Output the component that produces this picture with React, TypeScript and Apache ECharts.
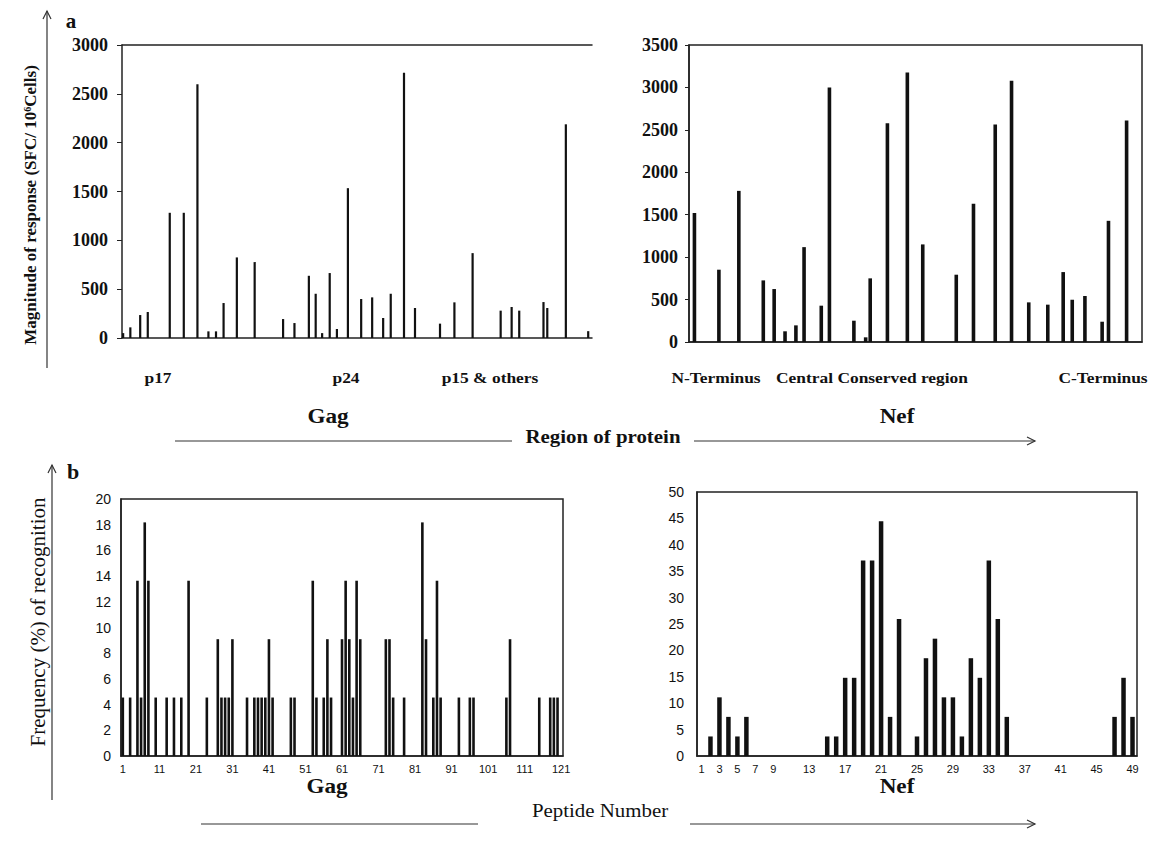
import React, { useEffect, useRef } from "react";
import * as echarts from "echarts";

// ---------- Panel a (left): Gag, magnitude of response (SFC/10^6 cells) ----------
const gagMagPos = [0.3, 2.2, 4.8, 6.8, 12.6, 16.3, 19.9, 22.8, 24.8, 26.8, 30.3, 35.0, 42.5, 45.5, 49.3, 51.1, 52.8, 54.8, 56.7, 59.6, 63.1, 66.0, 68.9, 70.9, 74.4, 77.3, 83.9, 87.7, 92.5, 99.9, 102.8, 104.8, 111.2, 112.2, 117.1, 123.0];
const gagMagVal = [50, 109, 235, 266, 1282, 1282, 2598, 68, 68, 358, 825, 777, 194, 153, 637, 453, 50, 665, 92, 1534, 399, 416, 205, 453, 2717, 307, 147, 365, 869, 280, 317, 280, 368, 307, 2188, 70];
const gagRegions = ["p17", "p24", "p15 & others"];

// ---------- Panel a (right): Nef, magnitude of response ----------
const nefMagPos = [0.6, 3.3, 5.5, 8.2, 9.4, 10.6, 11.8, 12.7, 14.6, 15.5, 18.2, 19.5, 20.0, 21.9, 24.1, 25.8, 29.5, 31.4, 33.8, 35.6, 37.5, 39.6, 41.3, 42.3, 43.7, 45.6, 46.3, 48.3];
const nefMagVal = [1519, 852, 1781, 726, 624, 126, 196, 1118, 428, 3000, 251, 55, 750, 2578, 3175, 1150, 793, 1628, 2562, 3080, 467, 440, 824, 498, 542, 239, 1428, 2609];
const nefRegions = ["N-Terminus", "Central Conserved region", "C-Terminus"];

// ---------- Panel b (left): Gag, frequency (%) of recognition per peptide ----------
const gagPeptideCount = 121;
const gagFreqPeptides = [1, 3, 5, 6, 7, 8, 10, 13, 15, 17, 19, 24, 27, 28, 29, 30, 31, 35, 37, 38, 39, 40, 41, 42, 47, 48, 53, 54, 56, 57, 58, 61, 62, 63, 64, 65, 66, 73, 74, 75, 78, 83, 84, 86, 87, 88, 93, 96, 97, 106, 107, 115, 118, 119, 120];
const gagFreqValues = [4.55, 4.55, 13.64, 4.55, 18.18, 13.64, 4.55, 4.55, 4.55, 4.55, 13.64, 4.55, 9.09, 4.55, 4.55, 4.55, 9.09, 4.55, 4.55, 4.55, 4.55, 4.55, 9.09, 4.55, 4.55, 4.55, 13.64, 4.55, 4.55, 9.09, 4.55, 9.09, 13.64, 9.09, 4.55, 13.64, 9.09, 9.09, 9.09, 4.55, 4.55, 18.18, 9.09, 4.55, 13.64, 4.55, 4.55, 4.55, 4.55, 4.55, 9.09, 4.55, 4.55, 4.55, 4.55];

// ---------- Panel b (right): Nef, frequency (%) of recognition per peptide ----------
const nefPeptideCount = 49;
const nefFreqPeptides = [2, 3, 4, 5, 6, 15, 16, 17, 18, 19, 20, 21, 22, 23, 25, 26, 27, 28, 29, 30, 31, 32, 33, 34, 35, 47, 48, 49];
const nefFreqValues = [3.7, 11.11, 7.41, 3.7, 7.41, 3.7, 3.7, 14.81, 14.81, 37.04, 37.04, 44.44, 7.41, 25.93, 3.7, 18.52, 22.22, 11.11, 11.11, 3.7, 18.52, 14.81, 37.04, 25.93, 7.41, 7.41, 14.81, 7.41];
const nefTickLabels = ["1", "3", "5", "7", "9", "13", "17", "21", "25", "29", "33", "37", "41", "45", "49"];

const SERIF = "'Liberation Serif', 'Times New Roman', serif";
const SANS = "'Liberation Sans', Arial, sans-serif";
const INK = "#111";
const STRETCH = 1.16;

function buildCategoryData(count: number, peptides: number[], values: number[]) {
  const arr: (number | null)[] = new Array(count).fill(null);
  peptides.forEach((p, i) => {
    arr[p - 1] = values[i];
  });
  return arr;
}

export default function App() {
  const ref = useRef<HTMLDivElement>(null);

  useEffect(() => {
    if (!ref.current) return;
    const chart = echarts.init(ref.current, undefined, { renderer: "svg" });

    const gagCats = Array.from({ length: gagPeptideCount }, (_, i) => String(i + 1));
    const nefCats = Array.from({ length: nefPeptideCount }, (_, i) => String(i + 1));

    const axisLine = { show: true, lineStyle: { color: "#222", width: 1.5 } };
    const plain = (v: number) => String(v);
    const topYLabel = { fontFamily: SERIF, fontWeight: "bold" as const, fontSize: 18, color: INK, formatter: plain };
    const botYLabel = { fontFamily: SANS, fontSize: 14, color: INK, formatter: plain };

    const text = (t: string, x: number, y: number, font: string, extra: any = {}) => ({
      type: "text",
      x,
      y,
      ...extra,
      style: { text: t, font, fill: INK, textAlign: "center", textVerticalAlign: "middle", align: "center", verticalAlign: "middle" },
    });
    const wtext = (t: string, x: number, y: number, font: string) => text(t, x, y, font, { scaleX: STRETCH });
    const line = (x1: number, y1: number, x2: number, y2: number) => ({
      type: "line",
      shape: { x1, y1, x2, y2 },
      style: { stroke: "#333", lineWidth: 1.2 },
    });
    const poly = (pts: number[][]) => ({
      type: "polyline",
      shape: { points: pts },
      style: { stroke: "#333", lineWidth: 1.2, fill: "none" },
    });

    const option: any = {
      animation: false,
      backgroundColor: "#fff",
      grid: [
        { left: 122, top: 45, width: 470, height: 293 },
        { left: 689, top: 45, width: 453, height: 297, show: true, borderColor: "#222", borderWidth: 1.5 },
        { left: 121, top: 499, width: 442, height: 257, show: true, borderColor: "#222", borderWidth: 1.5 },
        { left: 697, top: 492, width: 440, height: 264, show: true, borderColor: "#222", borderWidth: 1.5 },
      ],
      xAxis: [
        { gridIndex: 0, type: "value", min: 0, max: 124, axisLine, axisTick: { show: false }, axisLabel: { show: false }, splitLine: { show: false } },
        { gridIndex: 0, type: "value", position: "top", min: 0, max: 124, axisLine, axisTick: { show: false }, axisLabel: { show: false }, splitLine: { show: false } },
        { gridIndex: 1, type: "value", min: 0, max: 50, axisLine, axisTick: { show: false }, axisLabel: { show: false }, splitLine: { show: false } },
        {
          gridIndex: 2, type: "category", data: gagCats, axisLine, axisTick: { show: false },
          axisLabel: { interval: 9, fontFamily: SANS, fontSize: 11, color: INK, margin: 7 },
        },
        {
          gridIndex: 3, type: "category", data: nefCats, axisLine, axisTick: { show: false },
          axisLabel: { interval: (_i: number, v: string) => nefTickLabels.includes(v), fontFamily: SANS, fontSize: 11, color: INK, margin: 7 },
        },
      ],
      yAxis: [
        { gridIndex: 0, type: "value", min: 0, max: 3000, interval: 500, axisLine, axisTick: { show: true, length: 5, lineStyle: { color: "#222" } }, axisLabel: { ...topYLabel, margin: 14 }, splitLine: { show: false } },
        { gridIndex: 1, type: "value", min: 0, max: 3500, interval: 500, axisLine, axisTick: { show: true, length: 4, lineStyle: { color: "#222" } }, axisLabel: { ...topYLabel, margin: 11 }, splitLine: { show: false } },
        { gridIndex: 2, type: "value", min: 0, max: 20, interval: 2, axisLine, axisTick: { show: false }, axisLabel: { ...botYLabel, margin: 10 }, splitLine: { show: false } },
        { gridIndex: 3, type: "value", min: 0, max: 50, interval: 5, axisLine, axisTick: { show: false }, axisLabel: { ...botYLabel, margin: 13 }, splitLine: { show: false } },
      ],
      series: [
        { type: "bar", xAxisIndex: 0, yAxisIndex: 0, barWidth: 2.2, itemStyle: { color: INK }, data: gagMagPos.map((p, i) => [p, gagMagVal[i]]) },
        { type: "bar", xAxisIndex: 2, yAxisIndex: 1, barWidth: 3.6, itemStyle: { color: INK }, data: nefMagPos.map((p, i) => [p, nefMagVal[i]]) },
        { type: "bar", xAxisIndex: 3, yAxisIndex: 2, barWidth: 2.6, itemStyle: { color: INK }, data: buildCategoryData(gagPeptideCount, gagFreqPeptides, gagFreqValues) },
        { type: "bar", xAxisIndex: 4, yAxisIndex: 3, barWidth: 4.5, itemStyle: { color: INK }, data: buildCategoryData(nefPeptideCount, nefFreqPeptides, nefFreqValues) },
      ],
      graphic: [
        // panel letters
        text("a", 71, 21, `bold 21px ${SERIF}`),
        text("b", 73, 471, `bold 22px ${SERIF}`),
        // y-axis names with arrows
        text("Magnitude of response (SFC/ 10⁶Cells)", 30, 205, `bold 17px ${SERIF}`, { rotation: Math.PI / 2 }),
        line(47, 368, 47, 11),
        poly([[43, 19], [47, 11], [51, 19]]),
        text("Frequency (%) of recognition", 38, 622, `21px ${SERIF}`, { rotation: Math.PI / 2 }),
        line(52, 800, 52, 465),
        poly([[48, 473], [52, 465], [56, 473]]),
        // region labels, top
        wtext(gagRegions[0], 158, 378, `bold 15px ${SERIF}`),
        wtext(gagRegions[1], 346, 378, `bold 15px ${SERIF}`),
        wtext(gagRegions[2], 490, 378, `bold 15px ${SERIF}`),
        wtext(nefRegions[0], 716, 378, `bold 15px ${SERIF}`),
        wtext(nefRegions[1], 872, 378, `bold 15px ${SERIF}`),
        wtext(nefRegions[2], 1103, 378, `bold 15px ${SERIF}`),
        wtext("Gag", 328, 417, `bold 20px ${SERIF}`),
        wtext("Nef", 897, 417, `bold 20px ${SERIF}`),
        wtext("Region of protein", 603, 437, `bold 18px ${SERIF}`),
        line(175, 441, 512, 441),
        line(694, 441, 1035, 441),
        poly([[1027, 437], [1035, 441], [1027, 445]]),
        // bottom labels
        wtext("Gag", 327, 787, `bold 20px ${SERIF}`),
        wtext("Nef", 897, 787, `bold 20px ${SERIF}`),
        wtext("Peptide Number", 600, 811, `18px ${SERIF}`),
        line(201, 824, 478, 824),
        line(690, 824, 1035, 824),
        poly([[1027, 820], [1035, 824], [1027, 828]]),
      ],
    };

    chart.setOption(option);
    return () => chart.dispose();
  }, []);

  return (
    <div
      ref={ref}
      style={{ position: "fixed", left: 0, top: 0, width: 1149, height: 857, background: "#fff" }}
    />
  );
}
